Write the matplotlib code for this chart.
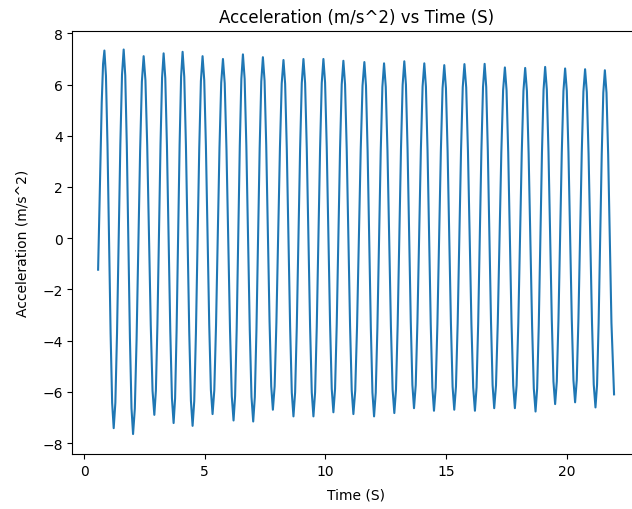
import matplotlib.pyplot as plt

# accelerometer trace: time (s) and acceleration (m/s^2)
time_s = [
    0.580, 0.630, 0.680, 0.730, 0.785,
    0.841, 0.905, 0.969, 1.034, 1.098, 1.162,
    1.226, 1.295, 1.364, 1.433, 1.502, 1.571,
    1.640, 1.705, 1.770, 1.835, 1.899, 1.964,
    2.029, 2.102, 2.175, 2.249, 2.322, 2.395,
    2.468, 2.542, 2.616, 2.690, 2.763, 2.837,
    2.911, 2.975, 3.039, 3.104, 3.168, 3.232,
    3.296, 3.365, 3.434, 3.503, 3.572, 3.641,
    3.710, 3.772, 3.834, 3.897, 3.959, 4.021,
    4.083, 4.152, 4.221, 4.290, 4.359, 4.428,
    4.497, 4.566, 4.635, 4.704, 4.773, 4.842,
    4.911, 4.980, 5.049, 5.118, 5.187, 5.256,
    5.325, 5.397, 5.469, 5.541, 5.612, 5.684,
    5.756, 5.829, 5.902, 5.976, 6.049, 6.122,
    6.195, 6.260, 6.325, 6.390, 6.454, 6.519,
    6.584, 6.655, 6.726, 6.797, 6.868, 6.939,
    7.010, 7.077, 7.144, 7.211, 7.278, 7.345,
    7.412, 7.481, 7.550, 7.619, 7.688, 7.757,
    7.826, 7.899, 7.972, 8.046, 8.119, 8.192,
    8.265, 8.334, 8.403, 8.472, 8.541, 8.610,
    8.679, 8.748, 8.817, 8.886, 8.955, 9.024,
    9.093, 9.162, 9.231, 9.300, 9.369, 9.438,
    9.507, 9.576, 9.645, 9.714, 9.783, 9.852,
    9.921, 9.990, 10.059, 10.128, 10.197, 10.266,
    10.335, 10.404, 10.473, 10.542, 10.611, 10.680,
    10.749, 10.818, 10.887, 10.957, 11.026, 11.095,
    11.164, 11.240, 11.316, 11.392, 11.467, 11.543,
    11.619, 11.686, 11.753, 11.820, 11.887, 11.954,
    12.021, 12.090, 12.159, 12.228, 12.297, 12.366,
    12.435, 12.506, 12.577, 12.648, 12.719, 12.790,
    12.861, 12.930, 12.999, 13.068, 13.137, 13.206,
    13.275, 13.342, 13.409, 13.476, 13.543, 13.610,
    13.677, 13.748, 13.819, 13.891, 13.962, 14.033,
    14.104, 14.171, 14.238, 14.305, 14.371, 14.438,
    14.505, 14.576, 14.647, 14.719, 14.790, 14.861,
    14.932, 15.001, 15.070, 15.139, 15.208, 15.277,
    15.346, 15.416, 15.487, 15.557, 15.627, 15.698,
    15.768, 15.841, 15.913, 15.986, 16.058, 16.131,
    16.203, 16.270, 16.337, 16.404, 16.471, 16.538,
    16.605, 16.671, 16.737, 16.804, 16.870, 16.936,
    17.002, 17.076, 17.150, 17.224, 17.297, 17.371,
    17.445, 17.514, 17.583, 17.652, 17.721, 17.790,
    17.859, 17.930, 18.001, 18.073, 18.144, 18.215,
    18.286, 18.358, 18.429, 18.501, 18.573, 18.644,
    18.716, 18.782, 18.849, 18.915, 18.982, 19.048,
    19.114, 19.183, 19.252, 19.321, 19.390, 19.459,
    19.528, 19.597, 19.666, 19.735, 19.804, 19.873,
    19.942, 20.011, 20.080, 20.149, 20.218, 20.287,
    20.356, 20.425, 20.494, 20.563, 20.632, 20.701,
    20.770, 20.842, 20.914, 20.986, 21.057, 21.129,
    21.201, 21.266, 21.331, 21.396, 21.460, 21.525,
    21.590, 21.658, 21.727, 21.795, 21.863,
    21.971,
]

accel = [
    -1.23, 1.00, 3.30, 5.30, 6.80,
    7.33, 6.34, 3.64, -0.05, -3.73, -6.43,
    -7.42, -6.43, -3.72, -0.03, 3.67, 6.38,
    7.37, 6.36, 3.62, -0.14, -3.90, -6.64,
    -7.65, -6.66, -3.96, -0.27, 3.42, 6.12,
    7.11, 6.17, 3.61, 0.11, -3.40, -5.96,
    -6.90, -5.95, -3.37, 0.16, 3.69, 6.27,
    7.22, 6.25, 3.61, 0.00, -3.61, -6.25,
    -7.22, -6.25, -3.60, 0.03, 3.66, 6.31,
    7.28, 6.30, 3.63, -0.03, -3.68, -6.35,
    -7.33, -6.36, -3.72, -0.11, 3.50, 6.14,
    7.11, 6.17, 3.62, 0.12, -3.38, -5.93,
    -6.87, -5.94, -3.40, 0.07, 3.53, 6.07,
    7.00, 6.05, 3.47, -0.06, -3.59, -6.17,
    -7.12, -6.16, -3.55, 0.03, 3.61, 6.22,
    7.18, 6.22, 3.60, 0.01, -3.58, -6.20,
    -7.16, -6.21, -3.60, -0.05, 3.51, 6.12,
    7.07, 6.15, 3.63, 0.19, -3.26, -5.78,
    -6.70, -5.78, -3.29, 0.13, 3.55, 6.04,
    6.96, 6.03, 3.48, 0.00, -3.48, -6.03,
    -6.96, -6.02, -3.47, 0.02, 3.51, 6.06,
    7.00, 6.06, 3.51, 0.02, -3.47, -6.02,
    -6.96, -6.02, -3.47, 0.02, 3.51, 6.06,
    7.00, 6.08, 3.55, 0.10, -3.35, -5.88,
    -6.80, -5.88, -3.37, 0.07, 3.50, 6.01,
    6.93, 6.01, 3.48, 0.03, -3.42, -5.95,
    -6.87, -5.95, -3.43, 0.01, 3.44, 5.96,
    6.88, 5.95, 3.42, -0.04, -3.50, -6.03,
    -6.96, -6.04, -3.51, -0.07, 3.38, 5.91,
    6.83, 5.91, 3.42, 0.00, -3.42, -5.91,
    -6.83, -5.91, -3.40, 0.04, 3.48, 5.99,
    6.91, 6.00, 3.52, 0.14, -3.25, -5.73,
    -6.64, -5.74, -3.27, 0.10, 3.46, 5.93,
    6.83, 5.92, 3.44, 0.05, -3.35, -5.83,
    -6.74, -5.84, -3.37, 0.01, 3.39, 5.86,
    6.76, 5.86, 3.40, 0.03, -3.34, -5.80,
    -6.70, -5.80, -3.33, 0.05, 3.43, 5.90,
    6.80, 5.89, 3.42, 0.03, -3.36, -5.83,
    -6.74, -5.83, -3.35, 0.04, 3.42, 5.90,
    6.81, 5.91, 3.45, 0.09, -3.28, -5.74,
    -6.64, -5.75, -3.31, 0.02, 3.34, 5.78,
    6.67, 5.78, 3.34, 0.02, -3.31, -5.75,
    -6.64, -5.75, -3.32, 0.01, 3.33, 5.76,
    6.65, 5.75, 3.30, -0.06, -3.42, -5.87,
    -6.77, -5.87, -3.41, -0.04, 3.33, 5.79,
    6.69, 5.81, 3.40, 0.11, -3.19, -5.60,
    -6.48, -5.60, -3.20, 0.08, 3.35, 5.75,
    6.63, 5.76, 3.37, 0.11, -3.15, -5.54,
    -6.41, -5.54, -3.16, 0.10, 3.35, 5.73,
    6.60, 5.71, 3.30, -0.01, -3.31, -5.72,
    -6.61, -5.73, -3.32, -0.03, 3.27, 5.68,
    6.56, 5.68, 3.27, -0.02, -3.31,
    -6.10,
]

fig = plt.figure(figsize=(6.32, 5.10), dpi=100)
ax = fig.add_axes([0.1144, 0.1078, 0.898, 0.8288])
ax.plot(time_s, accel)
ax.set_xlim(-0.49, 23.04)
ax.set_ylim(-8.43, 8.08)
ax.set_title('Acceleration (m/s^2) vs Time (S)', pad=7)
ax.set_xlabel('Time (S)', labelpad=7)
ax.set_ylabel('Acceleration (m/s^2)', labelpad=9)
plt.savefig('out.png')
